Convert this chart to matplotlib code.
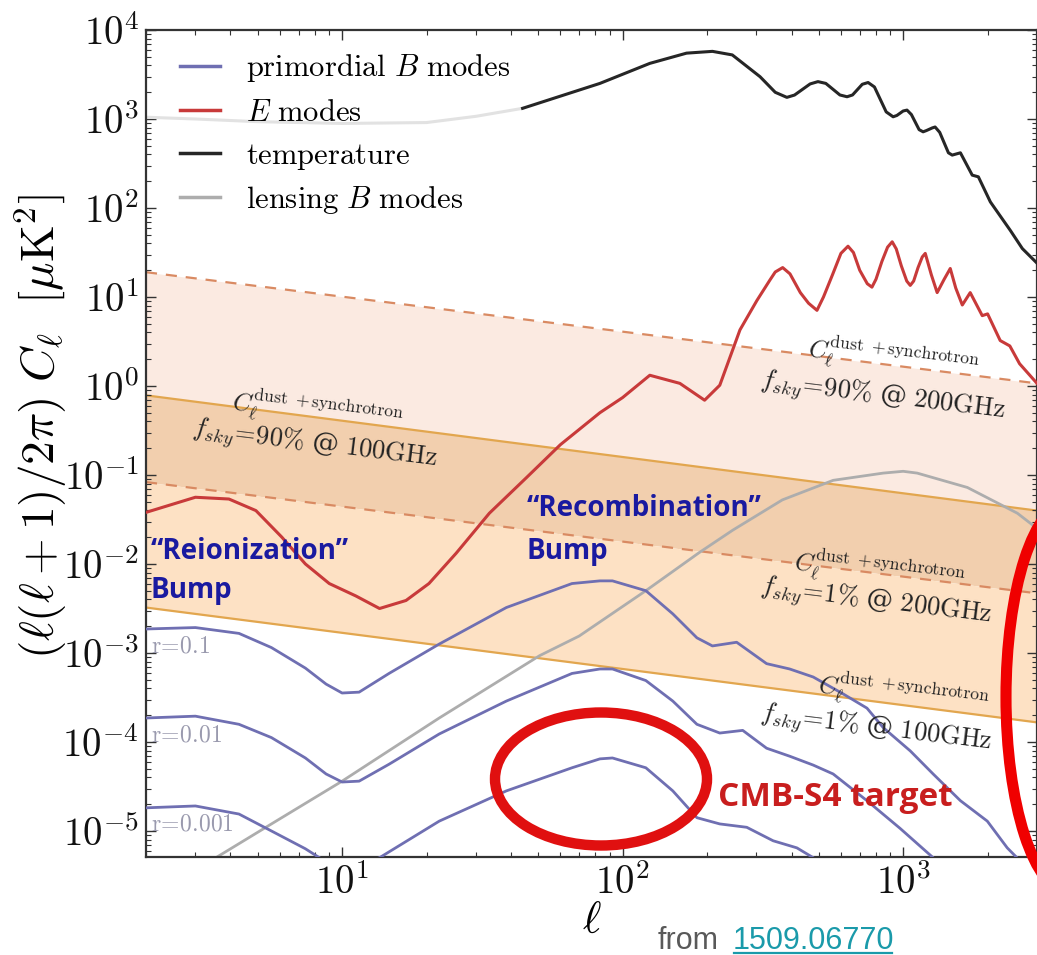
import matplotlib
matplotlib.use("Agg")
import matplotlib.pyplot as plt
from matplotlib.patches import Ellipse
from matplotlib.lines import Line2D
from matplotlib.ticker import FuncFormatter, LogLocator
from matplotlib.transforms import IdentityTransform
import numpy as np

plt.rcParams["mathtext.fontset"] = "cm"
plt.rcParams["font.family"] = ["DejaVu Serif"]

# ---------------- data: multipole ell vs l(l+1)C_l/2pi [uK^2] ----------------
tt_ell_faint = [2, 3, 5, 10, 20, 30, 44]
tt_faint = [1047, 1000, 933, 891, 912, 1072, 1318]

tt_ell = [44, 83, 125, 169, 209, 246, 309, 350, 385, 410, 466, 497, 530, 595,
          631, 660, 715, 750, 790, 870, 921, 950, 1000, 1032, 1070, 1140,
          1178, 1210, 1270, 1300, 1350, 1450, 1496, 1600, 1763, 1854, 2046,
          2410, 2660, 3000]
tt = [1318, 2512, 4217, 5495, 5754, 5248, 2985, 1995, 1750, 1858, 2477, 2630,
      2512, 1862, 1778, 1862, 2455, 2570, 2291, 1202, 1059, 1096, 1230, 1259,
      1122, 759, 718, 741, 794, 813, 708, 417, 393, 417, 234, 224, 117, 56,
      35, 24]

ee_ell = [2, 3, 3.95, 4.93, 6.1, 7.4, 9.0, 11.2, 13.6, 16.9, 20.4, 25.5, 33.5,
          45.4, 60, 83, 100, 125, 160, 196, 222, 262, 301, 335, 350, 372, 395,
          430, 460, 493, 520, 560, 600, 636, 665, 700, 745, 774, 800, 840, 880,
          914, 945, 985, 1030, 1060, 1090, 1130, 1170, 1199, 1260, 1322, 1400,
          1472, 1540, 1625, 1734, 1914, 2000, 2218, 2400, 2600, 3000]
ee = [0.0380, 0.0562, 0.0537, 0.0398, 0.0200, 0.0100, 0.00603, 0.00437,
      0.00316, 0.00389, 0.00603, 0.0132, 0.0372, 0.0933, 0.219, 0.501, 0.741,
      1.32, 1.07, 0.692, 1.02, 4.27, 9.12, 15.5, 19.1, 21.4, 18.2, 11.2, 8.51,
      7.08, 10.0, 17.8, 30.9, 37.2, 31.6, 20.0, 14.1, 12.9, 15.8, 25.1, 36.3,
      41.7, 34.7, 22.4, 15.1, 13.5, 15.1, 21.4, 28.2, 30.9, 17.8, 11.2, 15.8,
      20.9, 12.6, 8.13, 11.2, 6.17, 6.46, 3.24, 2.82, 1.78, 1.07]

lens_ell = [3.0, 3.55, 5.6, 10, 22.2, 50.6, 70, 121, 188, 247, 371, 563, 849,
            1000, 1122, 1694, 2553, 3000]
lens_bb = [3.55e-6, 5.01e-6, 1.20e-5, 3.63e-5, 1.86e-4, 9.33e-4, 1.55e-3,
           5.01e-3, 1.35e-2, 2.40e-2, 5.25e-2, 8.71e-2, 0.105, 0.110, 0.105,
           0.0724, 0.0372, 0.0251]

bb_ell_r01 = [2, 3, 4.29, 5.6, 7.4, 8.77, 10, 11.5, 14.7, 22.2, 38.5, 66, 83,
              92, 121, 151, 184, 209, 255, 326, 394, 478, 611, 743, 849, 1060,
              1279, 1600, 1995, 2350, 2600]
bb_r01 = [1.86e-3, 1.93e-3, 1.66e-3, 1.15e-3, 6.76e-4, 4.47e-4, 3.55e-4,
          3.63e-4, 5.89e-4, 1.26e-3, 3.24e-3, 6.03e-3, 6.46e-3, 6.46e-3,
          5.01e-3, 2.75e-3, 1.48e-3, 1.20e-3, 1.32e-3, 7.59e-4, 6.61e-4,
          5.37e-4, 3.47e-4, 2.40e-4, 1.45e-4, 7.94e-5, 4.37e-5, 2.19e-5,
          1.29e-5, 6.46e-6, 4.68e-6]

bb_ell_r001 = [2, 3, 4.29, 5.6, 7.4, 8.77, 10, 11.5, 14.7, 22.2, 38.5, 66, 83,
               92, 121, 151, 184, 222, 268, 326, 394, 478, 563, 743, 975, 1279,
               1350]
bb_r001 = [1.86e-4, 1.95e-4, 1.58e-4, 1.12e-4, 6.61e-5, 4.37e-5, 3.55e-5,
           3.63e-5, 5.62e-5, 1.23e-4, 2.88e-4, 5.89e-4, 6.61e-4, 6.61e-4,
           4.90e-4, 2.88e-4, 1.58e-4, 1.26e-4, 1.35e-4, 8.51e-5, 6.92e-5,
           5.50e-5, 4.37e-5, 2.19e-5, 1.07e-5, 5.01e-6, 4.0e-6]

bb_ell_r0001 = [2, 3, 4.29, 5.6, 7.4, 8.3, 10, 13.6, 22.2, 38.5, 66, 83, 92,
                121, 151, 184, 222, 277, 344, 418, 478, 520]
bb_r0001 = [1.82e-5, 1.91e-5, 1.55e-5, 1.0e-5, 6.31e-6, 5.01e-6, 3.55e-6,
            5.01e-6, 1.29e-5, 2.82e-5, 5.13e-5, 6.46e-5, 6.61e-5, 5.13e-5,
            2.82e-5, 1.41e-5, 1.20e-5, 1.10e-5, 7.76e-6, 6.46e-6, 5.01e-6,
            3.98e-6]

# dust + synchrotron foreground levels (power laws in ell)
fg_ell = [2, 3000]
fg_90_200 = [19.0, 1.07]
fg_90_100 = [0.785, 0.0398]
fg_1_200 = [0.0832, 0.00468]
fg_1_100 = [0.00324, 0.000166]

r_labels = ["r=0.1", "r=0.01", "r=0.001"]
r_label_levels = [1e-3, 1e-4, 1e-5]

# ---------------- figure ----------------
W, H = 1037, 955
fig = plt.figure(figsize=(W / 100, H / 100), dpi=100)
ax = fig.add_axes([146 / W, 1 - 857 / H, (1037 - 146) / W, (857 - 30) / H])
ax.set_xscale("log")
ax.set_yscale("log")
ax.set_xlim(2, 3000)
ax.set_ylim(5.1e-6, 1e4)

# foreground bands
c_top, c_mid, c_low = "#fbeae1", "#f2cfae", "#fde1c4"
ax.fill_between(fg_ell, fg_90_100, fg_90_200, color=c_top, lw=0, zorder=0)
ax.fill_between(fg_ell, fg_1_200, fg_90_100, color=c_mid, lw=0, zorder=0)
ax.fill_between(fg_ell, fg_1_100, fg_1_200, color=c_low, lw=0, zorder=0)
dash_c, solid_c = "#d98a62", "#e2a64e"
ax.plot(fg_ell, fg_90_200, color=dash_c, lw=1.6, ls=(0, (5, 4)), zorder=1)
ax.plot(fg_ell, fg_1_200, color=dash_c, lw=1.6, ls=(0, (5, 4)), zorder=1)
ax.plot(fg_ell, fg_90_100, color=solid_c, lw=1.6, zorder=1)
ax.plot(fg_ell, fg_1_100, color=solid_c, lw=1.6, zorder=1)

# spectra
blue, red, black, grey = "#6f6fb2", "#c83a3a", "#262626", "#adadad"
ax.plot(tt_ell_faint, tt_faint, color="#e2e2e2", lw=2.2, zorder=2)
ax.plot(tt_ell, tt, color=black, lw=2.2, zorder=3, solid_joinstyle="round")
ax.plot(ee_ell, ee, color=red, lw=2.2, zorder=3, solid_joinstyle="round")
ax.plot(lens_ell, lens_bb, color=grey, lw=2.0, zorder=2)
for ell, bb in [(bb_ell_r01, bb_r01), (bb_ell_r001, bb_r001),
                (bb_ell_r0001, bb_r0001)]:
    ax.plot(ell, bb, color=blue, lw=2.0, zorder=3, solid_joinstyle="round")

# axes styling
ax.tick_params(which="both", direction="in", top=True, right=True,
               colors="#333333")
ax.tick_params(which="major", length=7, width=1.0, labelsize=28, pad=5,
               labelcolor="#111111")
ax.tick_params(which="minor", length=3.5, width=0.8)
ax.xaxis.set_major_locator(LogLocator(base=10, numticks=20))
ax.yaxis.set_major_locator(LogLocator(base=10, numticks=20))
ax.yaxis.set_minor_locator(LogLocator(base=10, subs=np.arange(2, 10), numticks=20))
sci = FuncFormatter(lambda v, p: r"$10^{%d}$" % int(round(np.log10(v))))
ax.xaxis.set_major_formatter(sci)
ax.yaxis.set_major_formatter(sci)
for s in ax.spines.values():
    s.set_color("#333333")
    s.set_linewidth(1.6)

ax.set_ylabel(r"$(\ell(\ell+1)/2\pi)\ C_\ell\ \ [\mu\mathrm{K}^2]$", fontsize=34)
ax.yaxis.set_label_coords(-0.086, 0.52)
ax.set_xlabel(r"$\ell$", fontsize=32)
ax.xaxis.set_label_coords(0.50, -0.05)

# legend
handles = [Line2D([], [], color=blue, lw=2.5),
           Line2D([], [], color=red, lw=2.5),
           Line2D([], [], color=black, lw=2.5),
           Line2D([], [], color=grey, lw=2.5)]
labels = [r"$\mathrm{primordial}\ B\ \mathrm{modes}$", r"$E\ \mathrm{modes}$",
          r"$\mathrm{temperature}$", r"$\mathrm{lensing}\ B\ \mathrm{modes}$"]
ax.legend(handles, labels, loc="upper left", bbox_to_anchor=(0.038, 0.973),
          frameon=False, fontsize=22, handlelength=1.3, handletextpad=0.85,
          labelspacing=0.40, borderaxespad=0, borderpad=0)

# foreground annotations
fg_text = dict(rotation=-7, rotation_mode="anchor", ha="left", va="baseline",
               color="#222222", zorder=5)
ctext = r"$C_\ell^{\mathrm{dust\ +synchrotron}}$"
ax.text(4.02, 0.532, ctext, fontsize=18, **fg_text)
ax.text(2.91, 0.278, r"$f_{sky}\!=\!90\%\ $@$\ 100\mathrm{GHz}$", fontsize=19, **fg_text)
ax.text(454, 2.10, ctext, fontsize=18, **fg_text)
ax.text(308, 0.96, r"$f_{sky}\!=\!90\%\ $@$\ 200\mathrm{GHz}$", fontsize=19, **fg_text)
ax.text(405, 0.00843, ctext, fontsize=18, **fg_text)
ax.text(308, 0.00465, r"$f_{sky}\!=\!1\%\ $@$\ 200\mathrm{GHz}$", fontsize=19, **fg_text)
ax.text(493, 3.48e-4, ctext, fontsize=18, **fg_text)
ax.text(308, 1.74e-4, r"$f_{sky}\!=\!1\%\ $@$\ 100\mathrm{GHz}$", fontsize=19, **fg_text)

for lab, lev in zip(r_labels, r_label_levels):
    ax.text(2.08, lev, r"$\mathrm{%s}$" % lab.replace("=", r"\!=\!"),
            fontsize=17, color="#9a9aae", ha="left", va="baseline", zorder=5)

bump = dict(fontsize=20, fontweight="bold", color="#1a1aa0",
            family="Open Sans", ha="left", va="baseline", zorder=6)
ax.text(2.08, 0.0115, "\u201cReionization\u201d", **bump)
ax.text(2.08, 0.00419, "Bump", **bump)
ax.text(45.4, 0.035, "\u201cRecombination\u201d", **bump)
ax.text(45.4, 0.0115, "Bump", **bump)
ax.text(218, 1.91e-5, "CMB-S4 target", fontsize=24, fontweight="bold",
        color="#c81e1e", family="Open Sans", ha="left", va="baseline", zorder=6)

# highlight ellipses
fig.add_artist(Ellipse((601 / W, 1 - 779 / H), 212 / W, 133 / H, fill=False,
                       ec="#e01010", lw=7.5, transform=fig.transFigure, zorder=10))
fig.add_artist(Ellipse((1069 / W, 1 - 697 / H), 126 / W, 390 / H, fill=False,
                       ec="#f00000", lw=8, transform=fig.transFigure, zorder=10))

# source note
fig.text(658 / W, 1 - 949 / H, "from", fontsize=22, color="#595959",
         family="Liberation Sans", ha="left", va="baseline")
link = fig.text(733 / W, 1 - 949 / H, "1509.06770", fontsize=22,
                color="#1a9aaa", family="Liberation Sans", ha="left",
                va="baseline")
fig.canvas.draw()
bb = link.get_window_extent(fig.canvas.get_renderer())
fig.add_artist(Line2D([bb.x0 + 1, bb.x1 - 3], [2.0, 2.0], color="#1a9aaa",
                      lw=1.6, transform=IdentityTransform()))

fig.savefig("out.png", dpi=100, facecolor="white")
